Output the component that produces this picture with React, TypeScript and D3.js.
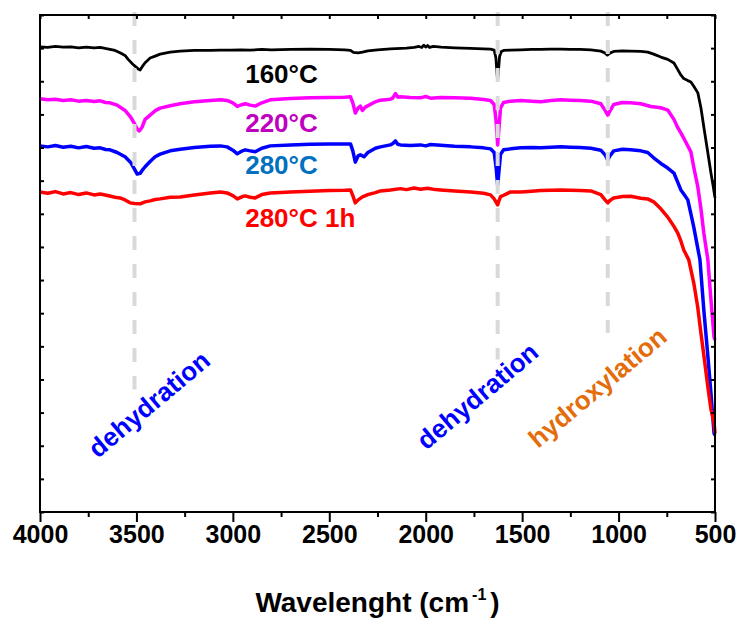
import React, { useEffect, useRef } from "react";
import * as d3 from "d3";

type Pt = [number, number];

// x axis (wavenumber, cm-1), drawn high -> low
const majorTicks = [4000, 3500, 3000, 2500, 2000, 1500, 1000, 500];
const minorTicks = [3750, 3250, 2750, 2250, 1750, 1250, 750];
const yTicks = d3.range(0, 16);

// spectra, [wavenumber, offset transmittance (a.u.)]
const s160: Pt[] = [
  [4000, 14.04], [3960, 14.02], [3920, 14.05], [3880, 14.03], [3840, 14.04], [3800, 14.01], [3760, 14.03],
  [3720, 14.01], [3688, 14.02], [3650, 13.98], [3611, 13.93], [3585, 13.86], [3559, 13.78], [3543, 13.66],
  [3520, 13.52], [3500, 13.42], [3488, 13.36], [3481, 13.34], [3470, 13.44], [3455, 13.56], [3429, 13.7],
  [3403, 13.76], [3377, 13.82], [3325, 13.88], [3273, 13.91], [3200, 13.93], [3117, 13.93], [3065, 13.94],
  [3013, 13.94], [2960, 13.95], [2910, 13.94], [2850, 13.96], [2800, 13.95], [2700, 13.96], [2600, 13.97],
  [2500, 13.96], [2420, 13.95], [2390, 13.93], [2375, 13.87], [2350, 13.86], [2328, 13.88], [2300, 13.92],
  [2250, 13.95], [2183, 13.98], [2100, 14.0], [2060, 14.02], [2035, 14.05], [2020, 14.02], [2010, 14.09],
  [2000, 14.03], [1990, 14.08], [1980, 14.02], [1960, 14.05], [1920, 14.03], [1850, 14.01], [1767, 13.99],
  [1700, 13.98], [1664, 13.97], [1645, 13.94], [1636, 13.7], [1630, 13.2], [1627, 13.04], [1623, 13.3],
  [1617, 13.75], [1608, 13.9], [1596, 13.93], [1560, 13.94], [1508, 13.95], [1450, 13.96], [1404, 13.96],
  [1350, 13.97], [1300, 13.97], [1250, 13.96], [1200, 13.96], [1144, 13.95], [1092, 13.91], [1070, 13.85],
  [1058, 13.79], [1045, 13.85], [1025, 13.9], [980, 13.92], [937, 13.91], [885, 13.9], [849, 13.88],
  [818, 13.82], [781, 13.73], [745, 13.66], [713, 13.55], [693, 13.35], [677, 13.19], [662, 13.08],
  [641, 13.02], [625, 12.98], [610, 12.85], [589, 12.65], [573, 12.2], [558, 11.62], [540, 10.95],
  [521, 10.23], [510, 9.85], [500, 9.48],
];

const s220: Pt[] = [
  [4000, 12.47], [3960, 12.44], [3920, 12.46], [3880, 12.42], [3840, 12.44], [3800, 12.4], [3760, 12.42],
  [3720, 12.39], [3688, 12.41], [3660, 12.36], [3637, 12.35], [3600, 12.28], [3559, 12.12], [3530, 11.92],
  [3510, 11.72], [3495, 11.55], [3485, 11.5], [3470, 11.62], [3455, 11.85], [3429, 11.98], [3400, 12.12],
  [3377, 12.19], [3325, 12.26], [3273, 12.32], [3200, 12.38], [3117, 12.42], [3065, 12.44], [3030, 12.42],
  [3000, 12.35], [2977, 12.24], [2950, 12.3], [2936, 12.32], [2910, 12.28], [2884, 12.25], [2850, 12.35],
  [2806, 12.44], [2700, 12.48], [2600, 12.5], [2500, 12.51], [2420, 12.52], [2390, 12.53], [2378, 12.35],
  [2365, 12.04], [2350, 12.2], [2339, 12.25], [2328, 12.12], [2313, 12.22], [2261, 12.38], [2235, 12.43],
  [2183, 12.46], [2170, 12.5], [2157, 12.63], [2145, 12.52], [2131, 12.53], [2080, 12.51], [2027, 12.5],
  [2000, 12.54], [1975, 12.49], [1923, 12.51], [1850, 12.5], [1767, 12.49], [1700, 12.45], [1664, 12.42],
  [1645, 12.3], [1635, 11.8], [1627, 11.08], [1620, 11.6], [1612, 12.2], [1596, 12.36], [1560, 12.4],
  [1508, 12.42], [1450, 12.4], [1404, 12.38], [1350, 12.42], [1300, 12.44], [1250, 12.43], [1200, 12.42],
  [1144, 12.4], [1092, 12.32], [1070, 12.12], [1056, 11.98], [1045, 12.1], [1025, 12.3], [980, 12.36],
  [937, 12.35], [885, 12.32], [833, 12.24], [781, 12.2], [745, 12.13], [713, 11.85], [693, 11.6],
  [677, 11.44], [650, 11.15], [625, 10.87], [610, 10.4], [589, 9.81], [573, 9.15], [558, 8.42],
  [537, 7.61], [521, 6.4], [505, 5.28], [500, 5.19],
];

const s280: Pt[] = [
  [4000, 11.05], [3960, 11.02], [3920, 11.06], [3880, 11.01], [3840, 11.04], [3800, 10.99], [3760, 11.03],
  [3720, 10.98], [3688, 10.99], [3660, 10.94], [3637, 10.93], [3600, 10.85], [3559, 10.72], [3530, 10.55],
  [3510, 10.35], [3496, 10.2], [3481, 10.22], [3465, 10.35], [3455, 10.42], [3429, 10.58], [3403, 10.72],
  [3377, 10.8], [3325, 10.9], [3273, 10.95], [3200, 11.0], [3117, 11.04], [3065, 11.05], [3030, 11.02],
  [3000, 10.92], [2977, 10.81], [2950, 10.9], [2936, 10.93], [2910, 10.9], [2884, 10.87], [2850, 10.98],
  [2806, 11.05], [2700, 11.08], [2600, 11.1], [2500, 11.11], [2420, 11.11], [2390, 11.11], [2378, 10.9],
  [2365, 10.56], [2350, 10.75], [2339, 10.78], [2320, 10.72], [2300, 10.85], [2261, 10.98], [2235, 11.02],
  [2183, 11.08], [2170, 11.12], [2157, 11.2], [2145, 11.1], [2131, 11.08], [2080, 11.06], [2027, 11.08],
  [2000, 11.05], [1975, 11.09], [1923, 11.07], [1850, 11.04], [1767, 11.02], [1700, 10.99], [1664, 10.96],
  [1645, 10.85], [1635, 10.4], [1627, 9.87], [1620, 10.3], [1612, 10.8], [1596, 10.93], [1560, 10.96],
  [1508, 10.99], [1450, 11.0], [1404, 10.99], [1350, 11.01], [1300, 11.02], [1250, 11.01], [1200, 11.0],
  [1144, 10.98], [1092, 10.92], [1070, 10.78], [1056, 10.62], [1045, 10.75], [1025, 10.9], [980, 10.95],
  [937, 10.93], [885, 10.9], [849, 10.85], [818, 10.69], [781, 10.52], [745, 10.38], [713, 10.23],
  [693, 9.95], [677, 9.72], [662, 9.6], [641, 9.42], [625, 9.0], [610, 8.6], [589, 7.95], [578, 7.61],
  [558, 6.1], [537, 4.7], [521, 3.59], [505, 2.38], [500, 2.32],
];

const s280h: Pt[] = [
  [4000, 9.66], [3960, 9.62], [3920, 9.67], [3880, 9.6], [3840, 9.64], [3800, 9.58], [3760, 9.63],
  [3720, 9.57], [3688, 9.6], [3650, 9.55], [3611, 9.5], [3585, 9.48], [3559, 9.42], [3533, 9.33],
  [3510, 9.31], [3481, 9.3], [3455, 9.36], [3429, 9.39], [3403, 9.43], [3377, 9.45], [3325, 9.5],
  [3273, 9.51], [3200, 9.57], [3117, 9.63], [3065, 9.66], [3030, 9.63], [3000, 9.55], [2977, 9.45],
  [2950, 9.52], [2936, 9.54], [2910, 9.5], [2884, 9.48], [2850, 9.58], [2806, 9.63], [2700, 9.66],
  [2600, 9.68], [2500, 9.7], [2420, 9.71], [2390, 9.72], [2378, 9.55], [2365, 9.33], [2350, 9.42],
  [2328, 9.51], [2300, 9.58], [2261, 9.64], [2235, 9.69], [2183, 9.72], [2131, 9.76], [2100, 9.73],
  [2060, 9.78], [2027, 9.74], [1990, 9.77], [1950, 9.73], [1923, 9.72], [1850, 9.69], [1767, 9.66],
  [1700, 9.62], [1664, 9.57], [1645, 9.45], [1635, 9.35], [1627, 9.27], [1620, 9.4], [1612, 9.52],
  [1596, 9.56], [1560, 9.66], [1508, 9.66], [1450, 9.68], [1404, 9.7], [1350, 9.71], [1300, 9.72],
  [1250, 9.71], [1200, 9.7], [1144, 9.69], [1092, 9.58], [1070, 9.42], [1056, 9.33], [1045, 9.4],
  [1025, 9.48], [980, 9.52], [937, 9.53], [885, 9.47], [849, 9.45], [818, 9.36], [781, 9.15],
  [745, 8.9], [713, 8.62], [693, 8.42], [677, 8.18], [662, 7.91], [636, 7.61], [610, 6.91],
  [590, 6.2], [573, 5.4], [555, 4.6], [537, 3.77], [521, 3.1], [505, 2.69], [500, 2.38],
];

const seriesData = [s160, s220, s280, s280h];
const seriesNames = ["160°C", "220°C", "280°C", "280°C 1h"];
const lineColors = ["#000000", "#ff00ff", "#0000ff", "#ff0000"];
const lineWidths = [2.8, 3.5, 3.5, 3.5];
const labelColors = ["#000000", "#c000c0", "#0070c0", "#ff0000"];
const labelPos: Pt[] = [[2936, 12.95], [2936, 11.47], [2936, 10.2], [2936, 8.6]];

// marked bands
const bandCenters = [3510, 1627, 1056];
const bandBottoms = [3.7, 4.6, 5.4];
const notes = ["dehydration", "dehydration", "hydroxylation"];
const notePos: Pt[] = [[3700, 1.6], [1997, 1.85], [1418, 1.9]];
const noteColors = ["#0000ff", "#0000ff", "#e46c0a"];

const FONT = "'Liberation Sans', Arial, sans-serif";

export default function App() {
  const ref = useRef<SVGSVGElement>(null);

  useEffect(() => {
    const width = 740,
      height = 624;
    const margin = { top: 15, right: 25, bottom: 112, left: 40 };
    const w = width - margin.left - margin.right,
      h = height - margin.top - margin.bottom;

    const svg = d3.select(ref.current);
    svg.selectAll("*").remove();
    const g = svg.append("g").attr("transform", `translate(${margin.left},${margin.top})`);

    const x = d3.scaleLinear().domain([4000, 500]).range([0, w]);
    const y = d3.scaleLinear().domain([0, 15]).range([h, 0]);

    // spectra
    const line = d3
      .line<Pt>()
      .x((d) => x(d[0]))
      .y((d) => y(d[1]));
    g.selectAll(".spec")
      .data(seriesData)
      .join("path")
      .attr("class", "spec")
      .attr("d", (d) => line(d))
      .attr("fill", "none")
      .attr("stroke", (d, i) => lineColors[i])
      .attr("stroke-width", (d, i) => lineWidths[i])
      .attr("stroke-linejoin", "round");

    // dashed band markers (drawn over the spectra)
    g.selectAll(".band")
      .data(bandCenters)
      .join("line")
      .attr("class", "band")
      .attr("x1", (d) => x(d))
      .attr("x2", (d) => x(d))
      .attr("y1", -3)
      .attr("y2", (d, i) => y(bandBottoms[i]))
      .attr("stroke", "#d9d9d9")
      .attr("stroke-width", 4)
      .attr("stroke-dasharray", "14,14");

    // axes
    const styleAxis = (sel: any) => {
      sel.select(".domain").remove();
      sel.selectAll("line").attr("stroke", "#000").attr("stroke-width", 2);
    };
    g.append("g")
      .attr("transform", `translate(0,${h})`)
      .call(d3.axisBottom(x).tickValues(minorTicks).tickSize(5).tickFormat(() => ""))
      .call(styleAxis);
    g.append("g")
      .attr("transform", `translate(0,${h})`)
      .call(d3.axisBottom(x).tickValues(majorTicks).tickSize(10).tickPadding(3).tickFormat(d3.format("d")))
      .call(styleAxis)
      .selectAll("text")
      .attr("fill", "#000")
      .style("font-family", FONT)
      .style("font-weight", "bold")
      .style("font-size", "25px");
    g.append("g")
      .call(d3.axisTop(x).tickValues(d3.range(4000, 499, -250)).tickSize(-4).tickFormat(() => ""))
      .call(styleAxis);
    g.append("g")
      .call(d3.axisLeft(y).tickValues(yTicks).tickSize(-4).tickFormat(() => ""))
      .call(styleAxis);
    g.append("g")
      .attr("transform", `translate(${w},0)`)
      .call(d3.axisRight(y).tickValues(yTicks).tickSize(-4).tickFormat(() => ""))
      .call(styleAxis);

    // frame
    g.append("rect")
      .attr("width", w)
      .attr("height", h)
      .attr("fill", "none")
      .attr("stroke", "#000")
      .attr("stroke-width", 2);

    // series labels
    g.selectAll(".lab")
      .data(seriesNames)
      .join("text")
      .attr("class", "lab")
      .attr("x", (d, i) => x(labelPos[i][0]))
      .attr("y", (d, i) => y(labelPos[i][1]))
      .attr("fill", (d, i) => labelColors[i])
      .style("font-family", FONT)
      .style("font-weight", "bold")
      .style("font-size", "26px")
      .text((d) => d);

    // rotated notes
    g.selectAll(".note")
      .data(notes)
      .join("text")
      .attr("class", "note")
      .attr("transform", (d, i) => `translate(${x(notePos[i][0])},${y(notePos[i][1])}) rotate(-40)`)
      .attr("fill", (d, i) => noteColors[i])
      .style("font-family", FONT)
      .style("font-weight", "bold")
      .style("font-size", "26px")
      .text((d) => d);

    // x axis title
    const title = g
      .append("text")
      .attr("x", w / 2)
      .attr("y", h + 100)
      .attr("text-anchor", "middle")
      .attr("fill", "#000")
      .style("font-family", FONT)
      .style("font-weight", "bold")
      .style("font-size", "28px");
    title.append("tspan").text("Wavelenght (cm");
    title.append("tspan").attr("dx", 3).attr("dy", -12).style("font-size", "16px").text("-1");
    title.append("tspan").attr("dx", 4).attr("dy", 12).text(")");
  }, []);

  return (
    <svg
      ref={ref}
      width={740}
      height={624}
      style={{ position: "absolute", left: 0, top: 0, background: "#fff" }}
    />
  );
}
